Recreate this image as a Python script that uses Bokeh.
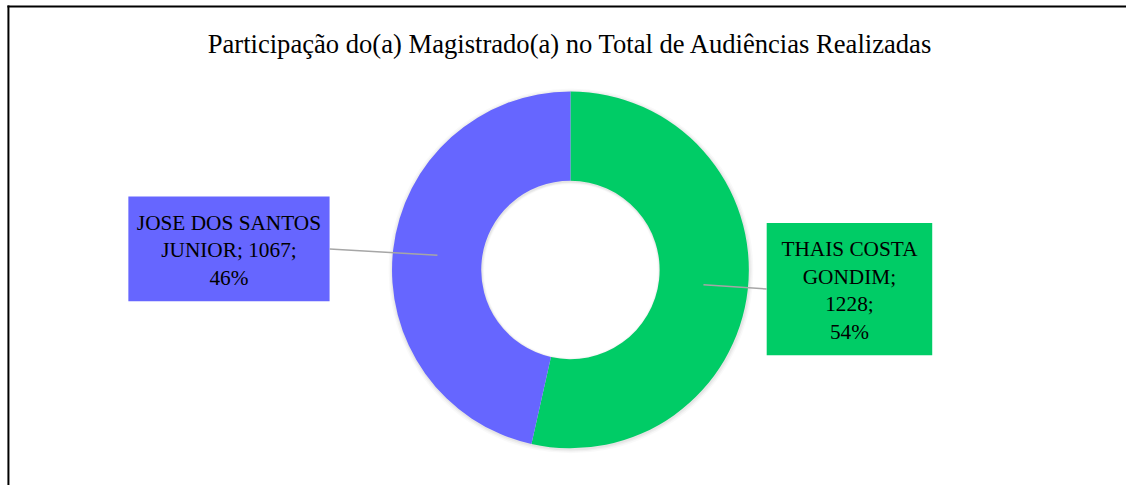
import numpy as np
from bokeh.plotting import figure
from bokeh.models import Range1d, Label, ColumnDataSource
from bokeh.embed import file_html
from bokeh.resources import INLINE
from bokeh.core.properties import value

# ---- data ----
names = ["THAIS COSTA GONDIM", "JOSE DOS SANTOS JUNIOR"]
counts = [1228, 1067]
colors = ["#00CC66", "#6666FF"]
label_lines = [["THAIS COSTA", "GONDIM;", "{c};", "{p}%"],
               ["JOSE DOS SANTOS", "JUNIOR; {c};", "{p}%"]]
title = "Participação do(a) Magistrado(a) no Total de Audiências Realizadas"

W, H = 1126, 485
FONT = "Liberation Serif"
SX, SY = W / 1136, H / 495


def X(xp):
    return xp * SX


def Y(yp):
    return H - yp * SY


p = figure(width=W, height=H, output_backend="svg", toolbar_location=None,
           x_range=Range1d(0, W), y_range=Range1d(0, H), min_border=0)
p.axis.visible = False
p.grid.visible = False
p.outline_line_color = None
p.background_fill_color = "white"

# border (left & top)
p.segment(x0=[X(8), X(8) - 1], y0=[-10, Y(6)], x1=[X(8), W + 10], y1=[Y(6) + 1, Y(6)],
          line_color="black", line_width=2)

cx, cy = X(575), Y(275)
r_in, r_out = 90 * SX, 180 * SX

total = sum(counts)
fr = np.array(counts) / total
ends = np.pi / 2 - 2 * np.pi * np.cumsum(fr)
starts = np.concatenate([[np.pi / 2], ends[:-1]])
mids = (starts + ends) / 2

# soft shadow
for d, a in [(4, 0.025), (2.5, 0.035), (1.2, 0.045)]:
    p.annular_wedge(x=cx + 0.5, y=cy - 1, inner_radius=r_in - d * 0.6, outer_radius=r_out + d,
                    start_angle=0, end_angle=2 * np.pi, color="black", alpha=a, line_color=None)

src = ColumnDataSource(dict(start=list(ends), end=list(starts), color=colors))
p.annular_wedge(x=cx, y=cy, inner_radius=r_in, outer_radius=r_out,
                start_angle="start", end_angle="end", color="color", source=src,
                line_color=None)

# label boxes in reference pixels: (left, right, top, bottom), text center y
boxes = [(773, 940, 227, 362, 296), (129, 332, 200, 307, 255)]
for i in range(len(names)):
    lp, rp, tp, bp, typ = boxes[i]
    l, r, t, b = X(lp), X(rp), Y(tp), Y(bp)
    p.quad(left=[l], right=[r], bottom=[b], top=[t], fill_color=colors[i], line_color=None)
    pct = int(round(fr[i] * 100))
    txt = "\n".join(s.format(c=counts[i], p=pct) for s in label_lines[i])
    # leader line from ring middle to box edge
    rm = (r_in + r_out) / 2
    sx = cx + rm * np.cos(mids[i])
    sy = cy + rm * np.sin(mids[i])
    ex = l if sx < l else r
    p.line(x=[sx, ex], y=[sy, (b + t) / 2], line_color="#A6A6A6", line_width=1.5)
    p.text(x=[(l + r) / 2], y=[Y(typ)], text=[txt], text_align="center",
           text_baseline="middle", text_font=value(FONT), text_font_size="21.3px",
           text_color="black", text_line_height=1.15)

p.add_layout(Label(x=cx, y=Y(44), text=title, text_align="center", text_baseline="middle",
                   text_font=FONT, text_font_size="26.6px", text_color="black"))

open("out.html", "w").write(file_html(p, INLINE))
